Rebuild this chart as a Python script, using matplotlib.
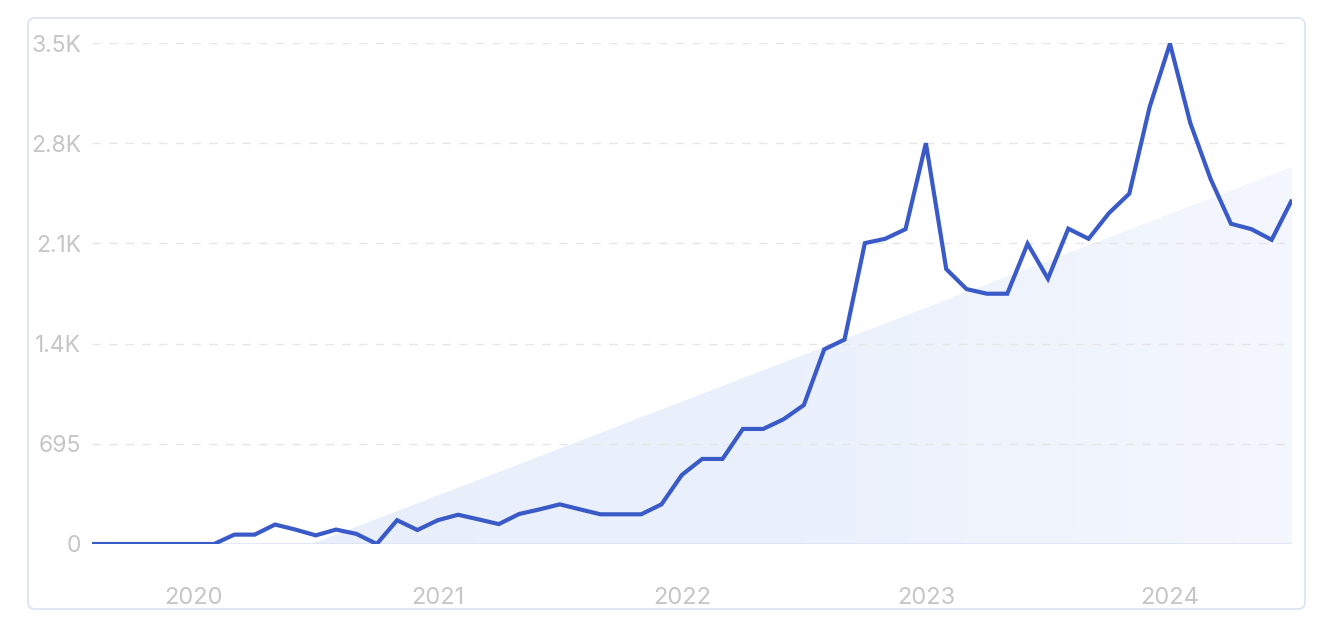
import numpy as np
import pandas as pd
import matplotlib
matplotlib.use("Agg")
import matplotlib.pyplot as plt
from matplotlib.patches import FancyBboxPatch, Polygon
from matplotlib.colors import LinearSegmentedColormap

# ---------------- data ----------------
months = pd.date_range("2019-08-01", "2024-07-01", freq="MS")
values = [0, 0, 0, 0, 0, 0, 0, 65, 65, 135,
          100, 60, 100, 70, 0, 165, 97, 165, 203, 171,
          138, 208, 240, 275, 240, 206, 206, 206, 275, 479,
          590, 590, 798, 798, 865, 964, 1350, 1418, 2087, 2117,
          2184, 2780, 1907, 1768, 1736, 1736, 2083, 1840, 2187, 2117,
          2295, 2430, 3031, 3470, 2920, 2531, 2221, 2184, 2110, 2388]
y_ticks = [0, 695, 1390, 2085, 2780, 3475]
y_tick_labels = ["0", "695", "1.4K", "2.1K", "2.8K", "3.5K"]
# trend band: zero crossing (month index) and value at the last month
trend_start = 10.8
trend_end = 2615

# ---------------- figure ----------------
W, H, DPI = 1334, 636, 100
plt.rcParams["font.family"] = ["Inter", "DejaVu Sans"]
fig = plt.figure(figsize=(W / DPI, H / DPI), dpi=DPI)
fig.patch.set_facecolor("white")

# card frame
frame = FancyBboxPatch((28 / DPI, (H - 609) / DPI), (1305 - 28) / DPI, (609 - 18) / DPI,
                       boxstyle="round,pad=0,rounding_size=0.07",
                       transform=fig.dpi_scale_trans, facecolor="none",
                       edgecolor="#dde4f3", linewidth=1.3, zorder=-5)
fig.patches.append(frame)

x = np.arange(len(values))
n = len(values)
ax = fig.add_axes([92 / W, (H - 544) / H, (1292 - 92) / W, (544 - 43) / H])
ax.set_facecolor("none")

# gradient trend band
poly = Polygon([[trend_start, 0], [n - 1, trend_end], [n - 1, 0]], closed=True,
               facecolor="none", edgecolor="none", transform=ax.transData)
ax.add_patch(poly)
grad = np.linspace(0, 1, 256).reshape(1, -1)
cmap = LinearSegmentedColormap.from_list("g", ["#e8effb", "#ebf1fc", "#f4f7fd"])
im = ax.imshow(grad, extent=[trend_start, n - 1, 0, trend_end], aspect="auto",
               cmap=cmap, zorder=1, interpolation="bicubic")
im.set_clip_path(poly)
ax.set_xlim(0, n - 1)
ax.set_ylim(0, y_ticks[-1])

# grid
for yt in y_ticks[1:]:
    ax.axhline(yt, color="#e6e6e6", lw=1.0, ls=(0, (6, 6)), zorder=1.5)
ax.axhline(0, color="#dde5f5", lw=1.3, zorder=1.6)

ax.plot(x, values, color="#3a5bc7", lw=3.0, zorder=3,
        solid_joinstyle="miter", solid_capstyle="butt")

for s in ax.spines.values():
    s.set_visible(False)

ax.set_yticks(y_ticks)
ax.set_yticklabels(y_tick_labels)
year_idx = [i for i, m in enumerate(months) if m.month == 1]
ax.set_xticks(year_idx)
ax.set_xticklabels([str(months[i].year) for i in year_idx])
ax.tick_params(axis="both", length=0, labelsize=17, labelcolor="#c6c6c6")
ax.tick_params(axis="y", labelsize=16.5, pad=8)
ax.tick_params(axis="x", pad=31)

fig.savefig("out.png", dpi=DPI, facecolor="white")
